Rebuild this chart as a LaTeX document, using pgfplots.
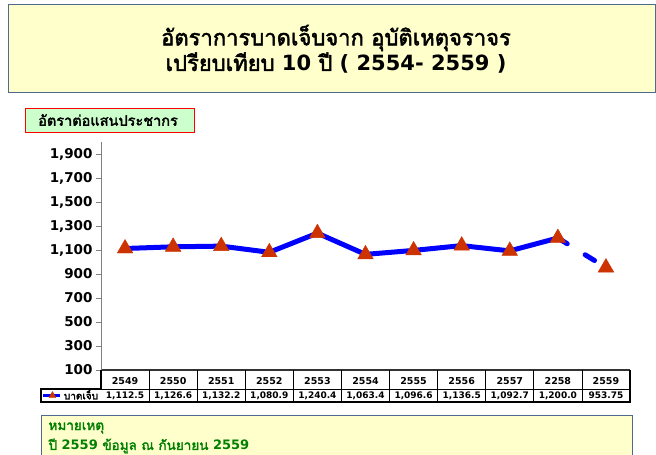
\documentclass[border=0pt]{standalone}
\usepackage{pgfplots}
\pgfplotsset{compat=1.18}
\usepackage{fontspec}
\setmainfont{DejaVu Sans}
\newfontfamily\thaifont[Script=Thai, AutoFakeBold=2.2]{Loma}
\definecolor{titlefill}{HTML}{FFFFCC}
\definecolor{boxborder}{HTML}{4F6A8F}
\definecolor{greenfill}{HTML}{CCFFCC}
\definecolor{mk}{HTML}{CC3300}
\definecolor{notegreen}{HTML}{008000}
\begin{document}
\begin{tikzpicture}[x=1pt,y=-1pt]
\clip (0,0) rectangle (656,455);
\fill[white] (0,0) rectangle (656,455);
% title box
\draw[boxborder, fill=titlefill, line width=1pt] (8,4) rectangle (655,92);
\node[font=\bfseries\fontsize{22}{24}\selectfont] at (336,38) {\thaifont อัตราการบาดเจ็บจาก อุบัติเหตุจราจร};
\node[font=\bfseries\fontsize{21}{24}\selectfont] at (336,63) {{\thaifont\fontsize{22}{24}\selectfont เปรียบเทียบ} 10 {\thaifont\fontsize{22}{24}\selectfont ปี} ( 2554- 2559 )};
% y label box
\draw[red, fill=greenfill, line width=1pt] (25,108) rectangle (194,132);
\node[font=\bfseries\fontsize{14.5}{16}\selectfont] at (108,120) {\thaifont อัตราต่อแสนประชากร};
\begin{axis}[
  at={(101pt,-370pt)}, anchor=south west,
  scale only axis, width=529pt, height=228pt,
  xmin=-0.5, xmax=10.5, ymin=100, ymax=2000,
  axis x line=bottom, axis y line=left,
  axis line style={-},
  x axis line style={draw=black!80, line width=1.6pt},
  y axis line style={draw=gray, line width=0.8pt},
  xtick={0,...,10},
  xticklabels={2549,2550,2551,2552,2553,2554,2555,2556,2557,2258,2559},
  xtick style={draw=none},
  ytick={100,300,...,1900},
  ytick style={draw=gray, line width=0.8pt},
  tick align=outside, major tick length=5pt,
  /pgf/number format/assume math mode=true,
  yticklabel style={font=\bfseries\fontsize{13.5}{15}\selectfont, /pgf/number format/1000 sep={,}},
  xticklabel style={font=\bfseries\fontsize{9.5}{10}\selectfont, anchor=center, yshift=-6.5pt},
  clip=false,
  legend style={at={(-0.0567,-0.112)}, anchor=center, draw=none, fill=none, inner sep=0pt,
     font=\thaifont\bfseries\fontsize{10}{11}\selectfont,
     /tikz/every even column/.append style={column sep=1pt}},
  legend image code/.code={
     \draw[blue, line width=3pt] (0pt,0pt) -- (17pt,0pt);
     \draw[mk, fill=mk] plot[mark=triangle*, mark size=4pt] coordinates {(9pt,0pt)};},
]
\addplot[blue, line width=5pt, line join=round, forget plot] coordinates {
 (0,1112.5) (1,1126.6) (2,1132.2) (3,1080.9) (4,1240.4) (5,1063.4)
 (6,1096.6) (7,1136.5) (8,1092.7) (9,1200.0)};
\addplot[blue, line width=5pt, line cap=round, dash pattern=on 11pt off 21pt, forget plot] coordinates {
 (9,1200.0) (10,953.75)};
\addplot[only marks, mark=triangle*, mark size=9pt, mark options={fill=mk, draw=mk}, forget plot] coordinates {
 (0,1112.5) (1,1126.6) (2,1132.2) (3,1080.9) (4,1240.4) (5,1063.4)
 (6,1096.6) (7,1136.5) (8,1092.7) (9,1200.0) (10,953.75)};
\addlegendimage{blue}
\addlegendentry{บาดเจ็บ}
\end{axis}
% data table
\draw[line width=0.8pt] (41,389) -- (630,389);
\foreach \k in {1,...,10} \draw[line width=0.8pt] ({101+48.0909*\k},370) -- ({101+48.0909*\k},402);
\draw[line width=1.4pt] (101,370) -- (101,389) -- (41,389) -- (41,402) -- (630,402) -- (630,370);
\begin{scope}[every node/.style={font=\bfseries\fontsize{9}{10}\selectfont}]
\node at (125.05,395.5) {1,112.5};
\node at (173.14,395.5) {1,126.6};
\node at (221.23,395.5) {1,132.2};
\node at (269.32,395.5) {1,080.9};
\node at (317.41,395.5) {1,240.4};
\node at (365.50,395.5) {1,063.4};
\node at (413.59,395.5) {1,096.6};
\node at (461.68,395.5) {1,136.5};
\node at (509.77,395.5) {1,092.7};
\node at (557.86,395.5) {1,200.0};
\node at (605.95,395.5) {953.75};
\end{scope}
% note box
\draw[boxborder, fill=titlefill, line width=1pt] (41,415) rectangle (632,470);
\node[anchor=west, text=notegreen, font=\bfseries\fontsize{13.5}{15}\selectfont] at (45,428) {\thaifont หมายเหตุ};
\node[anchor=west, text=notegreen, font=\bfseries\fontsize{13}{15}\selectfont] at (45,446) {{\thaifont\fontsize{13.5}{15}\selectfont ปี} 2559 {\thaifont\fontsize{13.5}{15}\selectfont ข้อมูล ณ กันยายน} 2559};
\end{tikzpicture}
\end{document}
